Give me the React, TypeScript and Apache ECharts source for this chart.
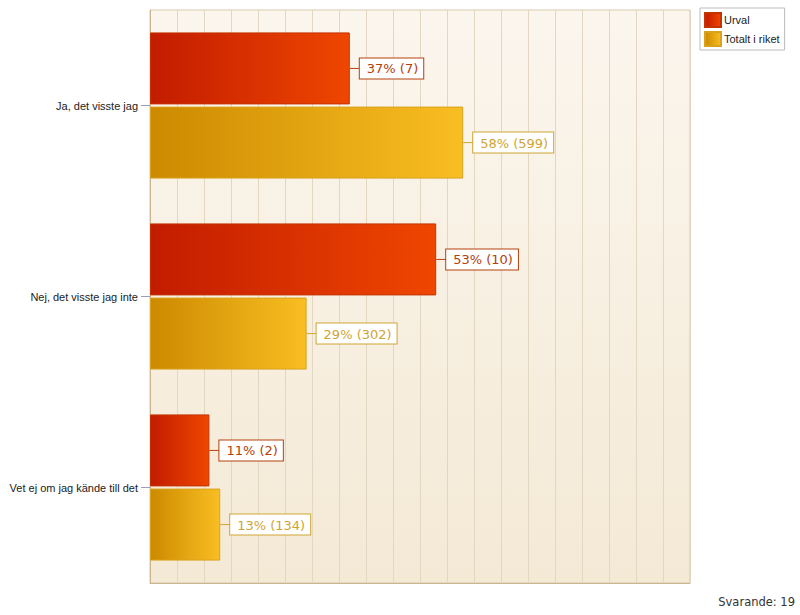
import React, { useEffect, useRef } from "react";
import * as echarts from "echarts";

const categories = ["Ja, det visste jag", "Nej, det visste jag inte", "Vet ej om jag kände till det"];
const seriesNames = ["Urval", "Totalt i riket"];
const urvalPct = [37, 53, 11];
const urvalCount = [7, 10, 2];
const totaltPct = [58, 29, 13];
const totaltCount = [599, 302, 134];
const footnote = "Svarande: 19";

const redGrad = () =>
  new echarts.graphic.LinearGradient(0, 0, 1, 0, [
    { offset: 0, color: "#c21c00" },
    { offset: 1, color: "#ef4600" },
  ]);
const yellowGrad = () =>
  new echarts.graphic.LinearGradient(0, 0, 1, 0, [
    { offset: 0, color: "#cc8a00" },
    { offset: 1, color: "#f9be22" },
  ]);

function makeLabel(counts: number[], color: string) {
  return {
    show: true,
    position: "right",
    distance: 0,
    formatter: (p: any) => `{l| }{b|${p.value}% (${counts[p.dataIndex]})}`,
    rich: {
      l: { width: 10, height: 1, backgroundColor: color },
      b: {
        color: color,
        fontFamily: "DejaVu Sans",
        fontSize: 13,
        backgroundColor: "#ffffff",
        borderColor: color,
        borderWidth: 1,
        padding: [4, 5, 3, 7],
        lineHeight: 13,
      },
    },
  };
}

export default function App() {
  const ref = useRef<HTMLDivElement>(null);
  useEffect(() => {
    if (!ref.current) return;
    const chart = echarts.init(ref.current, null, { renderer: "svg" });
    chart.setOption({
      animation: false,
      backgroundColor: "#ffffff",
      grid: {
        left: 150,
        top: 10,
        right: 110,
        bottom: 32,
        show: true,
        borderColor: "#d9c9a8",
        borderWidth: 1,
        backgroundColor: new echarts.graphic.LinearGradient(0, 0, 0, 1, [
          { offset: 0, color: "#fbf6ee" },
          { offset: 1, color: "#f4e9d5" },
        ]),
      },
      legend: {
        left: 700,
        top: 8,
        orient: "vertical",
        data: seriesNames,
        icon: "rect",
        itemWidth: 16,
        itemHeight: 14,
        itemGap: 3,
        padding: [4, 5, 3, 4],
        backgroundColor: "#ffffff",
        borderColor: "#bbbbbb",
        borderWidth: 1,
        textStyle: { fontFamily: "Liberation Sans", fontSize: 11, color: "#222", padding: [0, 0, 0, -2] },
      },
      xAxis: {
        type: "value",
        min: 0,
        max: 100,
        interval: 5,
        axisLabel: { show: false },
        axisTick: { show: false },
        axisLine: { show: true, lineStyle: { color: "#c9b58f" } },
        splitLine: { show: true, lineStyle: { color: "#e3d7c2", width: 1 } },
      },
      yAxis: {
        type: "category",
        data: categories,
        inverse: true,
        axisLine: { show: true, lineStyle: { color: "#c9b58f" } },
        axisTick: { show: true, alignWithLabel: true, length: 9, lineStyle: { color: "#9c9cbc" } },
        axisLabel: { fontFamily: "Liberation Sans", fontSize: 11, color: "#222", margin: 12 },
      },
      series: [
        {
          name: seriesNames[0],
          type: "bar",
          data: urvalPct,
          barWidth: 72,
          barGap: "3%",
          itemStyle: { color: redGrad(), borderColor: "#c43400", borderWidth: 1 },
          label: makeLabel(urvalCount, "#b5400c"),
        },
        {
          name: seriesNames[1],
          type: "bar",
          data: totaltPct,
          barWidth: 72,
          barGap: "3%",
          itemStyle: { color: yellowGrad(), borderColor: "#d9a21e", borderWidth: 1 },
          label: makeLabel(totaltCount, "#cfa532"),
        },
      ],
      graphic: [
        {
          type: "text",
          right: 5,
          top: 596,
          style: { text: footnote, fontFamily: "DejaVu Sans", fontSize: 11.5, fill: "#333" },
        },
      ],
    });
    return () => chart.dispose();
  }, []);
  return (
    <div
      ref={ref}
      style={{ position: "fixed", left: 0, top: 0, width: 800, height: 615 }}
    />
  );
}
